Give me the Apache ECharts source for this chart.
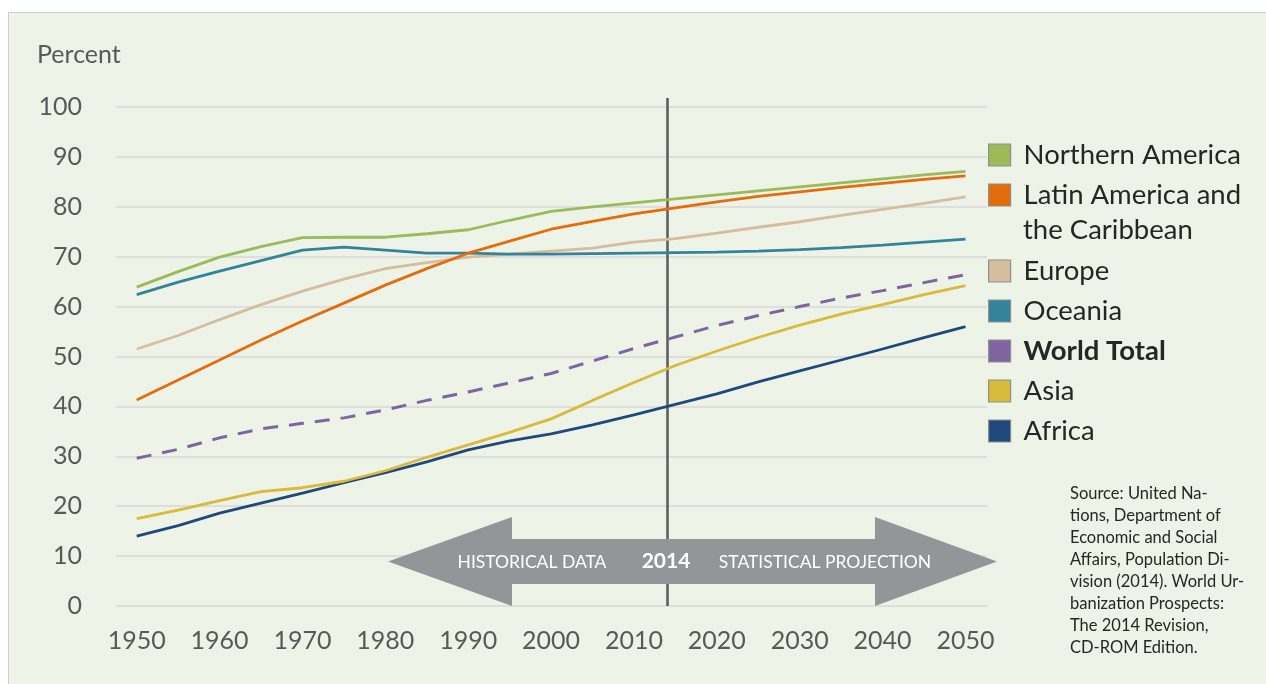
<!DOCTYPE html>
<html>
<head>
<meta charset="utf-8">
<script src="https://cdn.jsdelivr.net/npm/echarts@6/dist/echarts.min.js"></script>
<style>
  html, body { margin: 0; padding: 0; background: #ffffff; width: 1266px; height: 684px; overflow: hidden; }
  #panel { position: absolute; left: 8px; top: 12px; width: 1300px; height: 700px; background: #EEF3E8; border-left: 1.5px solid #cfcfcf; border-top: 1.5px solid #cfcfcf; }
  #main { position: absolute; left: 0; top: 0; width: 1266px; height: 684px; }
</style>
</head>
<body>
<div id="panel"></div>
<div id="main"></div>
<script>
const years = [1950,1955,1960,1965,1970,1975,1980,1985,1990,1995,2000,2005,2010,2015,2020,2025,2030,2035,2040,2045,2050];
const northernAmerica = [63.9,67.0,69.9,72.0,73.8,73.9,73.9,74.6,75.4,77.3,79.1,80.0,80.8,81.6,82.4,83.2,84.0,84.8,85.6,86.4,87.1];
const latinAmerica = [41.3,45.3,49.3,53.3,57.1,60.7,64.3,67.6,70.7,73.1,75.5,77.1,78.6,79.8,81.0,82.1,83.0,83.9,84.7,85.5,86.2];
const europe = [51.5,54.2,57.4,60.4,63.1,65.5,67.6,68.8,69.9,70.5,71.1,71.7,72.9,73.6,74.7,75.9,77.0,78.3,79.5,80.7,82.0];
const oceania = [62.4,64.9,67.1,69.2,71.3,71.9,71.3,70.7,70.7,70.5,70.5,70.6,70.7,70.8,70.9,71.1,71.4,71.8,72.3,72.9,73.5];
const worldTotal = [29.6,31.4,33.7,35.5,36.6,37.7,39.3,41.2,42.9,44.7,46.6,49.1,51.6,53.9,56.2,58.2,60.0,61.7,63.2,64.8,66.4];
const asia = [17.5,19.2,21.1,22.9,23.7,25.0,27.1,29.8,32.3,34.8,37.5,41.2,44.8,48.2,51.1,53.8,56.3,58.5,60.4,62.4,64.2];
const africa = [14.0,16.1,18.6,20.6,22.6,24.7,26.7,28.9,31.3,33.1,34.5,36.3,38.3,40.4,42.5,44.9,47.1,49.3,51.5,53.8,56.0];
const yTicks = [0,10,20,30,40,50,60,70,80,90,100];
const xTicks = [1950,1960,1970,1980,1990,2000,2010,2020,2030,2040,2050];
const splitYear = 2014;

const FONT = 'Lato';
const pairs = arr => years.map((y, i) => [y, arr[i]]);

function lineSeries(name, data, color, extra) {
  return Object.assign({
    name: name,
    type: 'line',
    data: pairs(data),
    color: color,
    showSymbol: false,
    symbol: 'none',
    smooth: false,
    lineStyle: { color: color, width: 2.8 },
    itemStyle: { color: color },
    emphasis: { disabled: true },
    silent: true,
    z: 3
  }, extra || {});
}

const chart = echarts.init(document.getElementById('main'), null, { renderer: 'canvas' });

const legendCommon = {
  orient: 'vertical',
  left: 988,
  padding: 0,
  icon: 'rect',
  itemWidth: 22,
  itemHeight: 22,
  itemGap: 12,
  selectedMode: false,
  itemStyle: { borderColor: '#8f8f8f', borderWidth: 1.2 },
  textStyle: { fontFamily: FONT, fontSize: 27.5, lineHeight: 27, color: '#262626', padding: [0, 0, 0, 8] }
};

chart.setOption({
  backgroundColor: 'transparent',
  animation: false,
  title: {
    text: 'Percent',
    left: 37,
    top: 42,
    padding: 0,
    textStyle: { fontFamily: FONT, fontSize: 25, fontWeight: 'normal', color: '#595959' }
  },
  legend: [
    Object.assign({}, legendCommon, {
      top: 141,
      data: ['Northern America', 'Latin America and the Caribbean'],
      formatter: n => n === 'Latin America and the Caribbean' ? 'Latin America and' : n
    }),
    Object.assign({}, legendCommon, {
      top: 257,
      data: ['Europe', 'Oceania', { name: 'World Total', textStyle: { fontWeight: 'bold' } }, 'Asia', 'Africa']
    })
  ],
  grid: { left: 116, right: 279, top: 98, bottom: 78, containLabel: false },
  xAxis: {
    type: 'value',
    min: 1947.5,
    max: 2052.6,
    splitNumber: 10,
    axisLine: { show: false },
    axisTick: { show: false },
    splitLine: { show: false },
    axisLabel: {
      showMinLabel: false,
      showMaxLabel: false,
      margin: 22,
      fontFamily: FONT,
      fontSize: 25,
      color: '#595959',
      formatter: v => xTicks.indexOf(v) >= 0 ? String(v) : ''
    }
  },
  yAxis: {
    type: 'value',
    min: 0,
    max: 101.8,
    interval: 10,
    axisLine: { show: false },
    axisTick: { show: false },
    splitLine: { show: true, showMaxLine: false, lineStyle: { color: '#d9d9d9', width: 1.5 } },
    axisLabel: {
      showMaxLabel: false,
      margin: 34,
      fontFamily: FONT,
      fontSize: 25,
      color: '#595959',
      formatter: v => yTicks.indexOf(v) >= 0 ? String(v) : ''
    }
  },
  series: [
    lineSeries('Africa', africa, '#1F497D', {
      markLine: {
        silent: true,
        symbol: ['none', 'none'],
        label: { show: false },
        lineStyle: { color: '#5f5f5f', width: 2.6, type: 'solid' },
        emphasis: { disabled: true },
        data: [{ xAxis: splitYear }],
        z: 1
      }
    }),
    lineSeries('Asia', asia, '#D8BB3B'),
    lineSeries('World Total', worldTotal, '#8064A2', { lineStyle: { color: '#8064A2', width: 3, type: [15, 11] } }),
    lineSeries('Europe', europe, '#D4BE9E'),
    lineSeries('Oceania', oceania, '#31849B'),
    lineSeries('Latin America and the Caribbean', latinAmerica, '#E46C0A'),
    lineSeries('Northern America', northernAmerica, '#9BBB59')
  ],
  graphic: [
    {
      type: 'polygon',
      z: 100,
      silent: true,
      shape: { points: [[388,561.5],[512,517],[512,539],[875,539],[875,517],[997,561.5],[875,606],[875,584],[512,584],[512,606]] },
      style: { fill: '#939598' }
    },
    {
      type: 'text', z: 101, silent: true, x: 532, y: 562,
      style: { text: 'HISTORICAL DATA', fontFamily: FONT, fontSize: 17.5, fill: '#ffffff', align: 'center', verticalAlign: 'middle' }
    },
    {
      type: 'text', z: 101, silent: true, x: 666, y: 561,
      style: { text: '2014', fontFamily: FONT, fontSize: 21, fontWeight: 'bold', fill: '#ffffff', align: 'center', verticalAlign: 'middle' }
    },
    {
      type: 'text', z: 101, silent: true, x: 825, y: 562,
      style: { text: 'STATISTICAL PROJECTION', fontFamily: FONT, fontSize: 17.5, fill: '#ffffff', align: 'center', verticalAlign: 'middle' }
    },
    {
      type: 'text', z: 101, silent: true, x: 1023, y: 230,
      style: { text: 'the Caribbean', fontFamily: FONT, fontSize: 27.5, fill: '#262626', align: 'left', verticalAlign: 'middle' }
    },
    {
      type: 'text', z: 101, silent: true, x: 1070, y: 483,
      style: {
        text: 'Source: United Na-\ntions, Department of\nEconomic and Social\nAffairs, Population Di-\nvision (2014). World Ur-\nbanization Prospects:\nThe 2014 Revision,\nCD-ROM Edition.',
        fontFamily: FONT, fontSize: 16.5, lineHeight: 22, fill: '#262626', align: 'left', verticalAlign: 'top'
      }
    }
  ]
});
</script>
</body>
</html>
